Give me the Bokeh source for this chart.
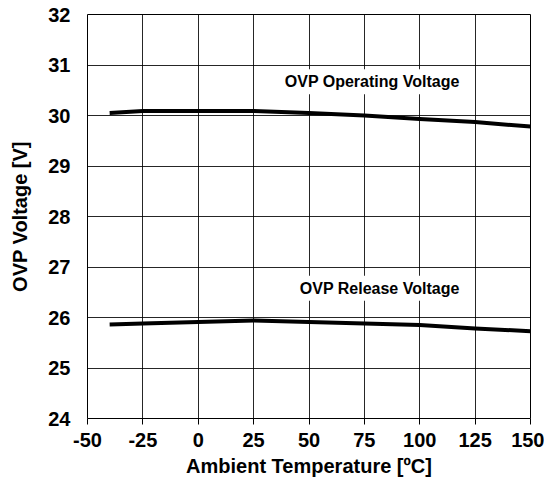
from bokeh.plotting import figure
from bokeh.models import Range1d, FixedTicker, Label, PrintfTickFormatter
from bokeh.embed import file_html
from bokeh.resources import INLINE

# Data
temps = [-40, -25, 0, 25, 50, 75, 100, 125, 150]
operating_v = [30.05, 30.09, 30.09, 30.09, 30.05, 30.00, 29.93, 29.87, 29.78]
release_v = [25.86, 25.88, 25.91, 25.94, 25.91, 25.88, 25.85, 25.78, 25.73]
x_ticks = [-50, -25, 0, 25, 50, 75, 100, 125, 150]
y_ticks = [24, 25, 26, 27, 28, 29, 30, 31, 32]
series_labels = ["OVP Operating Voltage", "OVP Release Voltage"]
label_x = [119.8, 119.8]
label_y = [30.67, 26.58]

FONT = "Liberation Sans"

p = figure(frame_width=443, frame_height=404,
           x_range=Range1d(-50, 150), y_range=Range1d(24, 32),
           output_backend="svg", toolbar_location=None,
           min_border_left=87, min_border_top=14, min_border_right=14,
           min_border_bottom=10)

p.background_fill_color = "white"
p.border_fill_color = "white"
p.outline_line_color = "black"
p.outline_line_width = 1

p.xaxis.ticker = FixedTicker(ticks=x_ticks)
p.yaxis.ticker = FixedTicker(ticks=y_ticks)
p.xgrid.ticker = FixedTicker(ticks=x_ticks)
p.ygrid.ticker = FixedTicker(ticks=y_ticks)
p.xaxis.formatter = PrintfTickFormatter(format="%d")
p.yaxis.formatter = PrintfTickFormatter(format="%d")

for g in (p.xgrid, p.ygrid):
    g.grid_line_color = "black"
    g.grid_line_width = 1
    g.grid_line_alpha = 0.85

for ax in (p.xaxis, p.yaxis):
    ax.axis_line_color = None
    ax.minor_tick_line_color = None
    ax.major_label_text_font = FONT
    ax.major_label_text_font_style = "bold"
    ax.major_label_text_font_size = "20px"
    ax.major_label_text_color = "black"
    ax.axis_label_text_font = FONT
    ax.axis_label_text_font_style = "bold"
    ax.axis_label_text_font_size = "20px"
    ax.axis_label_text_color = "black"

p.xaxis.major_tick_line_color = "black"
p.xaxis.major_tick_out = 6
p.xaxis.major_tick_in = 0
p.xaxis.major_label_standoff = 8
p.xaxis.axis_label = "Ambient Temperature [ºC]"
p.xaxis.axis_label_standoff = 5

p.yaxis.major_tick_line_color = None
p.yaxis.major_tick_out = 0
p.yaxis.major_tick_in = 0
p.yaxis.major_label_standoff = 17
p.yaxis.axis_label = "OVP Voltage [V]"
p.yaxis.axis_label_standoff = 14

p.line(temps, operating_v, line_color="black", line_width=4, line_join="round")
p.line(temps, release_v, line_color="black", line_width=4, line_join="round")

for txt, lx, ly in zip(series_labels, label_x, label_y):
    p.add_layout(Label(x=lx, y=ly, text=txt, text_align="right",
                       text_baseline="middle", text_font=FONT,
                       text_font_style="bold", text_font_size="16px",
                       text_color="black", background_fill_color="white",
                       padding=4))

open("out.html", "w").write(file_html(p, INLINE))
